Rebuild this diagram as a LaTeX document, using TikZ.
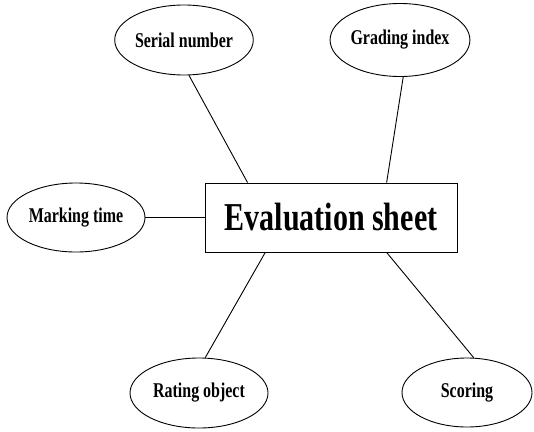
\documentclass[tikz,border=0pt]{standalone}
\usepackage{fontspec}
\newfontfamily\labelfont[FakeStretch=0.76]{Liberation Serif}
\usetikzlibrary{shapes.geometric,calc}

\begin{document}
\begin{tikzpicture}[x=1pt, y=-1pt, line width=0.9pt,
    attr/.style={draw, ellipse, inner sep=0pt, minimum width=137pt, minimum height=70pt,
      font=\labelfont\bfseries\fontsize{21}{24}\selectfont},
    sheet/.style={draw, rectangle, inner sep=0pt, minimum width=252pt, minimum height=69pt,
      font=\labelfont\bfseries\fontsize{39.5}{44}\selectfont}]
  \useasboundingbox (0,0) rectangle (534,431);

  \node[sheet] (eval) at (331,217.5) {Evaluation sheet};

  \node[attr] (serial) at (184,40) {Serial number};
  \node[attr, minimum height=73pt] (grading) at (400,40) {Grading index};
  \node[attr, minimum width=138pt, minimum height=69pt] (marking) at (76,217.5) {Marking time};
  \node[attr, minimum width=138pt] (rating) at (199,393) {Rating object};
  \node[attr, minimum width=130pt, minimum height=69pt] (scoring) at (467,392.5) {Scoring};

  % links to the sheet
  \draw (serial.-82) -- ($(eval.north west)!0.17!(eval.north east)$);
  \draw (grading.-85) -- ($(eval.north west)!0.72!(eval.north east)$);
  \draw (marking.east) -- (eval.west);
  \draw (rating.80) -- ($(eval.south west)!0.24!(eval.south east)$);
  \draw (scoring.79) -- ($(eval.south west)!0.72!(eval.south east)$);
\end{tikzpicture}
\end{document}
